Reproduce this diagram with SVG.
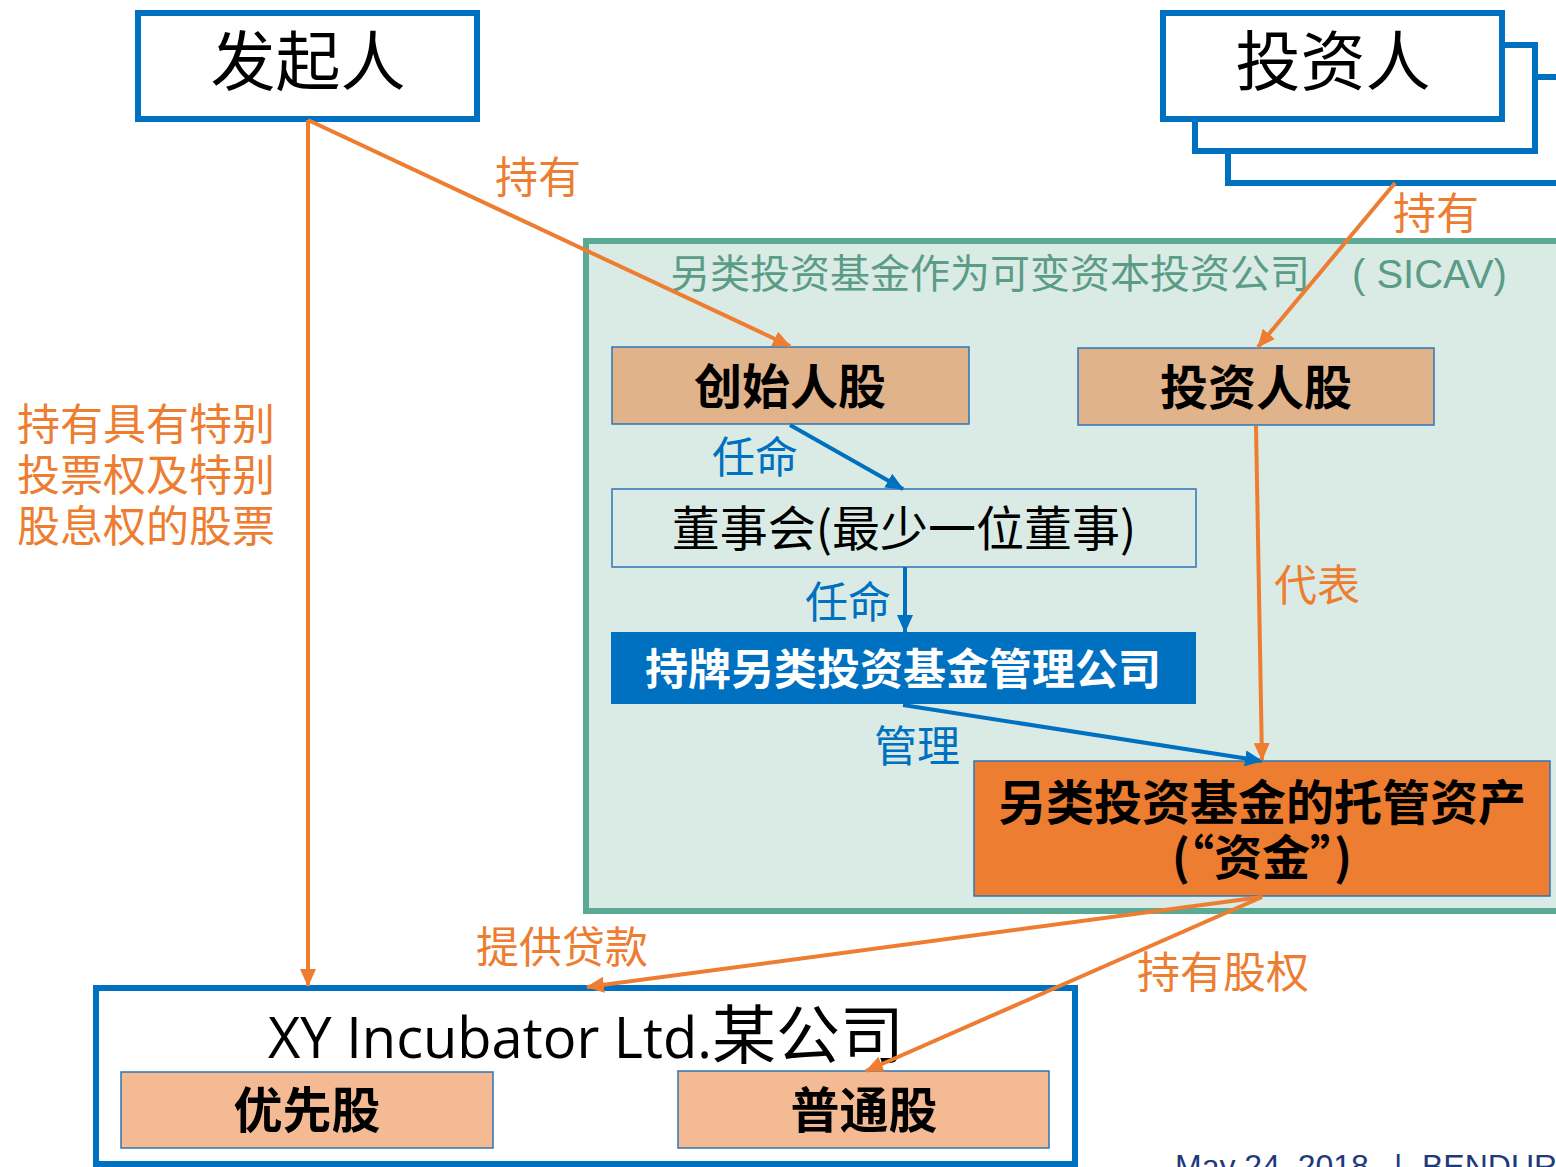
<svg xmlns="http://www.w3.org/2000/svg" width="1556" height="1167" viewBox="0 0 1556 1167">
<style>
.cjk{font-family:"Noto Sans CJK SC","Noto Sans",sans-serif}
.bold{font-weight:700}
.lblO{fill:#ED7D31;font-size:43px}
.lblB{fill:#0070C0;font-size:43px}
.big{stroke:#0070C0;stroke-width:6;fill:#fff}
.thin{stroke:#2E75B6;stroke-width:1.5}
.o{stroke:#ED7D31;stroke-width:4;fill:none}
.b{stroke:#0070C0;stroke-width:4;fill:none}
</style>
<defs>
<marker id="ao" markerUnits="userSpaceOnUse" markerWidth="18" markerHeight="16" viewBox="0 0 18 16" refX="17" refY="8" orient="auto"><path d="M0,0 L18,8 L0,16 Z" fill="#ED7D31"/></marker>
<marker id="ab" markerUnits="userSpaceOnUse" markerWidth="18" markerHeight="16" viewBox="0 0 18 16" refX="17" refY="8" orient="auto"><path d="M0,0 L18,8 L0,16 Z" fill="#0070C0"/></marker>
</defs>
<rect width="1556" height="1167" fill="#fff"/>
<g id="sicav">
<rect x="586" y="241" width="980" height="670" fill="#DAEBE6" stroke="#5BAA96" stroke-width="6"/>
<text x="670" y="288" class="cjk" font-size="40" fill="#5A9C85">另类投资基金作为可变资本投资公司<tspan x="1352" font-family="Liberation Sans,sans-serif">( SICAV)</tspan></text>
</g>
<g id="founder">
<rect x="138" y="13" width="339" height="106" class="big"/>
<text x="308" y="85" class="cjk" font-size="65" text-anchor="middle" fill="#000">发起人</text>
</g>
<g id="investors">
<rect x="1228" y="77" width="340" height="106" class="big"/>
<rect x="1195" y="45" width="340" height="106" class="big"/>
<rect x="1163" y="13" width="339" height="106" class="big"/>
<text x="1333" y="85" class="cjk" font-size="65" text-anchor="middle" fill="#000">投资人</text>
</g>
<g id="founderShares">
<rect x="612" y="347" width="357" height="77" fill="#E1B38B" class="thin"/>
<text x="790" y="404" class="cjk bold" font-size="48" text-anchor="middle" fill="#000">创始人股</text>
</g>
<g id="investorShares">
<rect x="1078" y="348" width="356" height="77" fill="#E1B38B" class="thin"/>
<text x="1256" y="405" class="cjk bold" font-size="48" text-anchor="middle" fill="#000">投资人股</text>
</g>
<g id="board">
<rect x="612" y="489" width="584" height="78" fill="#DAEBE6" class="thin"/>
<text x="904" y="546" class="cjk" font-size="48" text-anchor="middle" fill="#000">董事会(最少一位董事)</text>
</g>
<g id="manager">
<rect x="611" y="632" width="585" height="72" fill="#0070C0"/>
<text x="903" y="685" class="cjk bold" font-size="43" text-anchor="middle" fill="#fff">持牌另类投资基金管理公司</text>
</g>
<g id="assets">
<rect x="974" y="761" width="576" height="135" fill="#ED7D31" class="thin"/>
<text x="1262" y="820" class="cjk bold" font-size="48" text-anchor="middle" fill="#000">另类投资基金的托管资产</text>
<text x="1262" y="875" class="cjk bold" font-size="48" text-anchor="middle" fill="#000">(“资金”)</text>
</g>
<g id="company">
<rect x="96" y="988" width="979" height="176" class="big"/>
<text x="586" y="1058" font-family="Open Sans,'Noto Sans CJK SC',sans-serif" font-size="56" text-anchor="middle" fill="#000">XY Incubator Ltd.<tspan class="cjk" font-size="64">某公司</tspan></text>
</g>
<g id="preferred">
<rect x="121" y="1072" width="372" height="76" fill="#F4BA94" class="thin"/>
<text x="307" y="1128" class="cjk bold" font-size="49" text-anchor="middle" fill="#000">优先股</text>
</g>
<g id="ordinary">
<rect x="678" y="1071" width="371" height="77" fill="#F4BA94" class="thin"/>
<text x="864" y="1128" class="cjk bold" font-size="49" text-anchor="middle" fill="#000">普通股</text>
</g>
<g id="connectors">
<line x1="308" y1="120" x2="308" y2="986" class="o" marker-end="url(#ao)"/>
<line x1="308" y1="120" x2="790" y2="346" class="o" marker-end="url(#ao)"/>
<line x1="1395" y1="183" x2="1258" y2="347" class="o" marker-end="url(#ao)"/>
<line x1="790" y1="425" x2="903" y2="489" class="b" marker-end="url(#ab)"/>
<line x1="905" y1="567" x2="905" y2="632" class="b" marker-end="url(#ab)"/>
<line x1="903" y1="705" x2="1262" y2="761" class="b" marker-end="url(#ab)"/>
<line x1="1256" y1="426" x2="1262" y2="760" class="o" marker-end="url(#ao)"/>
<line x1="1262" y1="897" x2="587" y2="987" class="o" marker-end="url(#ao)"/>
<line x1="1262" y1="897" x2="866" y2="1071" class="o" marker-end="url(#ao)"/>
</g>
<g id="labels">
<text x="495" y="193" class="cjk lblO">持有</text>
<text x="1393" y="229" class="cjk lblO">持有</text>
<text x="712" y="473" class="cjk lblB">任命</text>
<text x="805" y="618" class="cjk lblB">任命</text>
<text x="874" y="762" class="cjk lblB">管理</text>
<text x="1274" y="601" class="cjk lblO">代表</text>
<text x="476" y="963" class="cjk lblO">提供贷款</text>
<text x="1137" y="988" class="cjk lblO">持有股权</text>
<text x="17" y="440" class="cjk lblO" font-size="46">持有具有特别</text>
<text x="17" y="491" class="cjk lblO" font-size="46">投票权及特别</text>
<text x="17" y="542" class="cjk lblO" font-size="46">股息权的股票</text>
</g>
<text x="1175" y="1177" font-family="Liberation Sans,sans-serif" font-size="32" fill="#1F3A7A">May 24, 2018<tspan x="1394">|</tspan><tspan x="1422">BENDURA</tspan></text>
</svg>
